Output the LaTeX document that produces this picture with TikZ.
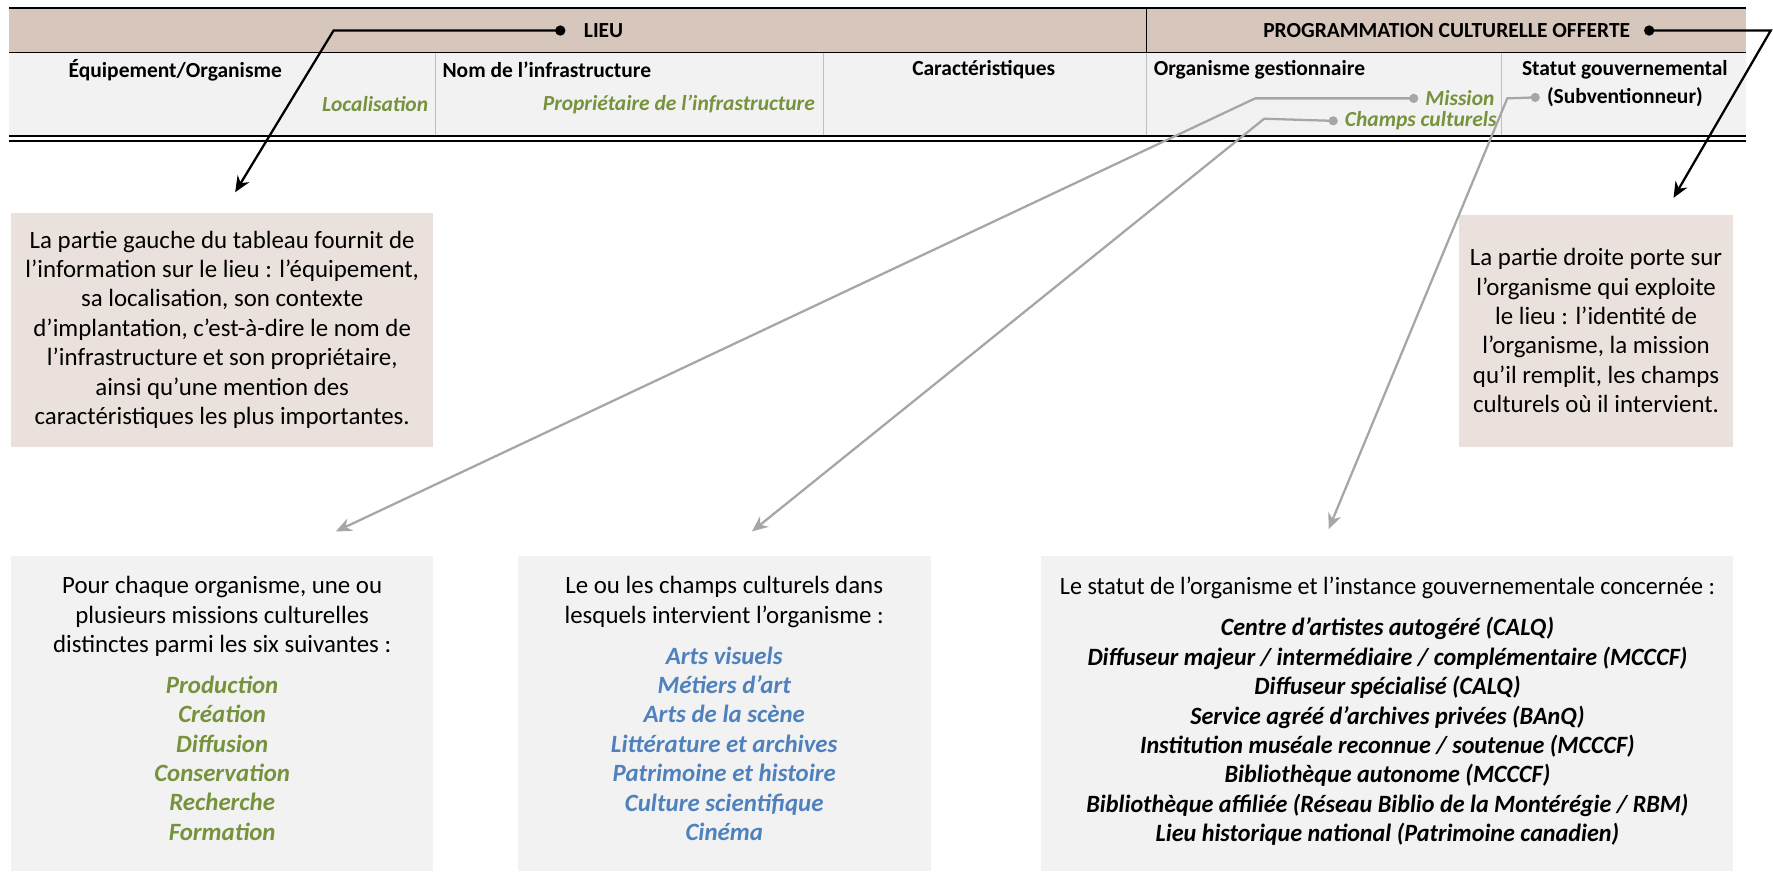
\documentclass[tikz,border=0pt]{standalone}
\usepackage{fontspec}
\setmainfont{Carlito}
\newfontfamily\narrowfont{Carlito}[FakeStretch=0.97]
\usetikzlibrary{arrows.meta,positioning}

\definecolor{bandbrown}{HTML}{D7C6BC}
\definecolor{bandgray}{HTML}{F2F2F2}
\definecolor{notebrown}{HTML}{EAE1DC}
\definecolor{colgray}{HTML}{BFBFBF}
\definecolor{linkgray}{HTML}{A6A6A6}
\definecolor{olivetext}{HTML}{76923C}
\definecolor{bluetext}{HTML}{4F81BD}

\begin{document}
\begin{tikzpicture}[x=0.5pt,y=-0.5pt,
			head/.style={font=\fontsize{9.5}{11}\selectfont\bfseries,inner sep=0pt},
			sub head/.style={font=\fontsize{9.5}{11}\selectfont\bfseries\itshape,text=olivetext,inner sep=0pt},
			note box/.style={fill=notebrown,inner sep=0pt,align=center,font=\fontsize{11}{13}\selectfont},
			list box/.style={fill=bandgray,inner sep=0pt},
			list text/.style={inner sep=0pt,align=center,font=\fontsize{11}{13}\selectfont},
			list items/.style={inner sep=0pt,align=center,font=\fontsize{11}{13}\selectfont\bfseries\itshape,text=#1},
			black link/.style={line width=1pt,{Circle[length=4.5pt]}-{Stealth[length=7pt,width=6pt]}},
			gray link/.style={draw=linkgray,line width=1pt,{Circle[length=4pt]}-{Stealth[length=7pt,width=6pt]}}
			]
			
			\def \l {8};
			\def \r {1544};
			
			\useasboundingbox (0,0) rectangle (1568,771);
			
			% bandeaux du tableau
			\fill[bandbrown] (\l,8) rectangle (\r,46);
			\fill[bandgray] (\l,47) rectangle (\r,119);
			\draw[line width=1.2pt] (\l,7) -- (\r,7);
			\draw[line width=0.8pt] (\l,46.5) -- (\r,46.5);
			\draw[line width=0.8pt] (\l,120) -- (\r,120);
			\draw[line width=0.8pt] (\l,124.5) -- (\r,124.5);
			\draw[line width=0.6pt] (1014,8) -- (1014,46);
			\foreach \x in {385,728,1014,1328} {
				\draw[colgray,line width=0.5pt] (\x,47) -- (\x,119);
			}
			
			\node[head,anchor=west] at (516,27) (lieu) {LIEU};
			\node[head,anchor=east] at (1442,27) (prog) {PROGRAMMATION CULTURELLE OFFERTE};
			
			\node[head] at (155,62) (equip) {Équipement/Organisme};
			\node[sub head,anchor=east] at (379,92) (local) {Localisation};
			\node[head,anchor=west] at (391,62) (nominf) {Nom de l’infrastructure};
			\node[sub head,anchor=east] at (721,92) (propr) {Propriétaire de l’infrastructure};
			\node[head] at (870,62) (caract) {Caractéristiques};
			\node[head,anchor=west] at (1020,62) (orgges) {Organisme gestionnaire};
			\node[sub head,anchor=east] at (1322,87) (mission) {Mission};
			\node[sub head,anchor=east] at (1324,107) (champs) {Champs culturels};
			\node[head] at (1437,62) (statut) {Statut gouvernemental};
			\node[head] at (1437,86) (subv) {(Subventionneur)};
			
			% encadres explicatifs
			\node[note box,minimum width=186.5pt,minimum height=103.5pt] at (196.5,291.5) (gauche) {La partie gauche du tableau fournit de\\ l’information sur le lieu : l’équipement,\\ sa localisation, son contexte\\ d’implantation, c’est-à-dire le nom de\\ l’infrastructure et son propriétaire,\\ ainsi qu’une mention des\\ caractéristiques les plus importantes.};
			\node[note box,minimum width=121.5pt,minimum height=102.5pt] at (1411.5,292.5) (droite) {La partie droite porte sur\\ l’organisme qui exploite\\ le lieu : l’identité de\\ l’organisme, la mission\\ qu’il remplit, les champs\\ culturels où il intervient.};
			
			\node[list box,minimum width=186.5pt,minimum height=139pt] at (196.5,631) (missions) {};
			\node[list box,minimum width=182.5pt,minimum height=139pt] at (640.5,631) (champsbox) {};
			\node[list box,minimum width=306pt,minimum height=139pt] at (1227,631) (statutbox) {};
			
			\node[list text,anchor=north] at ([yshift=-9pt]missions.north) (missions text) {Pour chaque organisme, une ou\\ plusieurs missions culturelles\\ distinctes parmi les six suivantes :};
			\node[list items=olivetext,below=8pt of missions text] (missions list) {Production\\ Création\\ Diffusion\\ Conservation\\ Recherche\\ Formation};
			
			\node[list text,anchor=north] at ([yshift=-9pt]champsbox.north) (champs text) {Le ou les champs culturels dans\\ lesquels intervient l’organisme :};
			\node[list items=bluetext,below=8pt of champs text] (champs list) {Arts visuels\\ Métiers d’art\\ Arts de la scène\\ Littérature et archives\\ Patrimoine et histoire\\ Culture scientifique\\ Cinéma};
			
			\node[list text,font=\fontsize{11}{13}\selectfont\narrowfont,anchor=north] at ([yshift=-9pt]statutbox.north) (statut text) {Le statut de l’organisme et l’instance gouvernementale concernée :};
			\node[list items=black,font=\fontsize{11}{13}\selectfont\narrowfont\bfseries\itshape,below=8pt of statut text] (statut list) {Centre d’artistes autogéré (CALQ)\\ Diffuseur majeur / intermédiaire / complémentaire (MCCCF)\\ Diffuseur spécialisé (CALQ)\\ Service agréé d’archives privées (BAnQ)\\ Institution muséale reconnue / soutenue (MCCCF)\\ Bibliothèque autonome (MCCCF)\\ Bibliothèque affiliée (Réseau Biblio de la Montérégie / RBM)\\ Lieu historique national (Patrimoine canadien)};
			
			% renvois
			\coordinate (lieu bend) at (295,27);
			\coordinate (gauche tip) at (208,170);
			\coordinate (prog bend) at (1566,27);
			\coordinate (droite tip) at (1480,175);
			\coordinate (mission bend) at (1110,87);
			\coordinate (missions tip) at (297,470);
			\coordinate (champs bend) at (1118,105);
			\coordinate (champs tip) at (665,470);
			\coordinate (subv bend) at (1333,87);
			\coordinate (statut tip) at (1175,468);
			
			\draw[black link] ([xshift=-8pt]lieu.west) -- (lieu bend) -- (gauche tip);
			\draw[black link] ([xshift=6pt]prog.east) -- (prog bend) -- (droite tip);
			\draw[gray link] ([xshift=-3pt]mission.west) -- (mission bend) -- (missions tip);
			\draw[gray link] ([xshift=-3pt]champs.west) -- (champs bend) -- (champs tip);
			\draw[gray link] ([xshift=-3pt]subv.west) -- (subv bend) -- (statut tip);
			\end{tikzpicture}
\end{document}
